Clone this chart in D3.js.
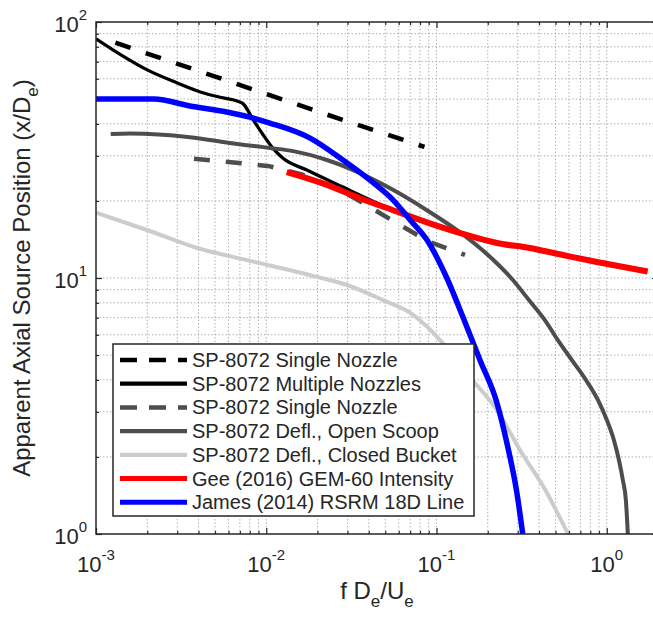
<!DOCTYPE html>
<html><head><meta charset="utf-8">
<script src="https://cdn.jsdelivr.net/npm/d3@7"></script>
<style>
body{margin:0;background:#fff}
svg{display:block}
text{font-family:"Liberation Sans",Arial,Helvetica,sans-serif;fill:#262626}
</style>
</head><body>
<svg id="chart" width="653" height="617"></svg>
<script>
// ---- data ----
const xMajor = [0.001, 0.01, 0.1, 1];
const xTickExp = ["-3", "-2", "-1", "0"];
const yMajor = [1, 10, 100];
const yTickExp = ["0", "1", "2"];

const seriesNames = [
  "SP-8072 Single Nozzle",
  "SP-8072 Multiple Nozzles",
  "SP-8072 Single Nozzle",
  "SP-8072 Defl., Open Scoop",
  "SP-8072 Defl., Closed Bucket",
  "Gee (2016) GEM-60 Intensity",
  "James (2014) RSRM 18D Line"
];

const sp8072SingleNozzleA = [[0.0013,83],[0.0227,43.5],[0.085,32.5]];
const sp8072MultipleNozzles = [[0.001,86],[0.00144,73.6],[0.002,65],[0.003,57.8],[0.0041,53.3],[0.0056,50.5],[0.0068,49],[0.0073,48],[0.0084,41.4],[0.0096,36.2],[0.011,32],[0.0125,29.4],[0.0173,26.4],[0.028,22.7],[0.045,19.6],[0.07,17.3],[0.105,16.0]];
const sp8072SingleNozzleB = [[0.00376,29.2],[0.006,28.4],[0.0105,27.3],[0.0164,25.3],[0.0271,22.1],[0.0407,18.9],[0.061,16.1],[0.0914,13.8],[0.147,12.3]];
const sp8072OpenScoop = [[0.00122,36.5],[0.00158,36.7],[0.00356,35.5],[0.0061,33.7],[0.0105,32.2],[0.0144,31.3],[0.0227,28.9],[0.0355,25.7],[0.0555,22.1],[0.0878,18.4],[0.137,15.1],[0.206,12.1],[0.281,9.82],[0.349,8.2],[0.433,6.85],[0.516,5.72],[0.624,4.78],[0.754,4.0],[0.887,3.34],[1.001,2.79],[1.101,2.33],[1.178,1.95],[1.243,1.625],[1.295,1.358],[1.33,1.0]];
const sp8072ClosedBucket = [[0.001,18],[0.00199,15.4],[0.00392,13.1],[0.0077,11.75],[0.0199,10.1],[0.0298,9.39],[0.0484,8.2],[0.0726,7.2],[0.109,5.57],[0.157,4.1],[0.2265,3.05],[0.309,2.13],[0.445,1.45],[0.592,1.0]];
const gee2016 = [[0.0132,25.9],[0.0227,23.1],[0.0355,20.5],[0.0555,18.4],[0.0878,16.5],[0.137,15.0],[0.2265,13.7],[0.353,13.1],[0.583,12.2],[0.875,11.55],[1.74,10.6]];
const james2014 = [[0.001,50],[0.00219,50],[0.00356,47],[0.00587,44.5],[0.008,42.5],[0.0105,40.3],[0.0181,35.2],[0.0282,28.9],[0.0407,24.1],[0.0555,20.2],[0.0698,16.9],[0.0878,14.1],[0.115,10],[0.143,7.04],[0.18,4.78],[0.2265,3.25],[0.259,2.27],[0.2965,1.45],[0.321,1.0]];

// ---- styles ----
const seriesData = [sp8072SingleNozzleA, sp8072MultipleNozzles, sp8072SingleNozzleB, sp8072OpenScoop, sp8072ClosedBucket, gee2016, james2014];
const styles = [
  {color:"#000000", width:4.5, lw:4.5, dash:"16,16", smooth:false},
  {color:"#000000", width:3.3, lw:4.2, dash:null, smooth:true},
  {color:"#4d4d4d", width:4.5, lw:4.5, dash:"16,16", smooth:false},
  {color:"#4d4d4d", width:4, lw:4.2, dash:null, smooth:true},
  {color:"#cccccc", width:4, lw:4.2, dash:null, smooth:true},
  {color:"#ff0000", width:6, lw:5, dash:null, smooth:true},
  {color:"#0000ff", width:5.5, lw:5, dash:null, smooth:true}
];

const svg = d3.select("#chart");
const L = 96, R = 658, T = 22, B = 534;
const x = d3.scaleLog().domain([0.001, 2]).range([L, R]);
const y = d3.scaleLog().domain([1, 100]).range([B, T]);

function minorVals(lo, hi) {
  const out = [];
  for (let e = Math.floor(Math.log10(lo)); e <= Math.ceil(Math.log10(hi)); e++) {
    for (let m = 1; m <= 9; m++) {
      const v = m * Math.pow(10, e);
      if (v >= lo * 0.9999 && v <= hi * 1.0001) out.push(v);
    }
  }
  return out;
}
const xAll = minorVals(0.001, 2);
const yAll = minorVals(1, 100);
const isMajor = v => Math.abs(Math.log10(v) - Math.round(Math.log10(v))) < 1e-9;

// grid
const grid = svg.append("g");
grid.selectAll("line.gx").data(xAll.filter(v => v > 0.001 && v < 2)).enter().append("line")
  .attr("x1", d => x(d)).attr("x2", d => x(d)).attr("y1", T).attr("y2", B)
  .attr("stroke", "#b0b0b0").attr("stroke-width", 1).attr("stroke-dasharray", "1.5,2");
grid.selectAll("line.gy").data(yAll.filter(v => v > 1 && v < 100)).enter().append("line")
  .attr("y1", d => y(d)).attr("y2", d => y(d)).attr("x1", L).attr("x2", R)
  .attr("stroke", "#b0b0b0").attr("stroke-width", 1).attr("stroke-dasharray", "1.5,2");

// clip
svg.append("clipPath").attr("id", "clip").append("rect")
  .attr("x", L).attr("y", T).attr("width", R - L).attr("height", B - T);

// lines
const plot = svg.append("g").attr("clip-path", "url(#clip)");
seriesData.forEach((data, i) => {
  const st = styles[i];
  const gen = d3.line().x(d => x(d[0])).y(d => y(d[1]))
    .curve(st.smooth ? d3.curveMonotoneX : d3.curveLinear);
  plot.append("path").datum(data).attr("d", gen)
    .attr("fill", "none").attr("stroke", st.color).attr("stroke-width", st.width)
    .attr("stroke-dasharray", st.dash).attr("stroke-linejoin", "round");
});

// axes (ticks inward on all sides)
const axColor = "#262626";
function styleAxis(g) {
  g.select(".domain").remove();
  g.selectAll("line").attr("stroke", axColor).attr("stroke-width", 1.2);
  g.selectAll("text").remove();
}
const xMinorOnly = xAll.filter(v => !isMajor(v));
const yMinorOnly = yAll.filter(v => !isMajor(v));
svg.append("g").attr("transform", `translate(0,${B})`).call(d3.axisBottom(x).tickValues(xMajor).tickSizeInner(-6).tickSizeOuter(0)).call(styleAxis);
svg.append("g").attr("transform", `translate(0,${B})`).call(d3.axisBottom(x).tickValues(xMinorOnly).tickSizeInner(-3).tickSizeOuter(0)).call(styleAxis);
svg.append("g").attr("transform", `translate(0,${T})`).call(d3.axisTop(x).tickValues(xMajor).tickSizeInner(-6).tickSizeOuter(0)).call(styleAxis);
svg.append("g").attr("transform", `translate(0,${T})`).call(d3.axisTop(x).tickValues(xMinorOnly).tickSizeInner(-3).tickSizeOuter(0)).call(styleAxis);
svg.append("g").attr("transform", `translate(${L},0)`).call(d3.axisLeft(y).tickValues(yMajor).tickSizeInner(-6).tickSizeOuter(0)).call(styleAxis);
svg.append("g").attr("transform", `translate(${L},0)`).call(d3.axisLeft(y).tickValues(yMinorOnly).tickSizeInner(-3).tickSizeOuter(0)).call(styleAxis);
svg.append("g").attr("transform", `translate(${R},0)`).call(d3.axisRight(y).tickValues(yMajor).tickSizeInner(-6).tickSizeOuter(0)).call(styleAxis);
svg.append("g").attr("transform", `translate(${R},0)`).call(d3.axisRight(y).tickValues(yMinorOnly).tickSizeInner(-3).tickSizeOuter(0)).call(styleAxis);

// box
svg.append("rect").attr("x", L).attr("y", T).attr("width", R - L).attr("height", B - T)
  .attr("fill", "none").attr("stroke", axColor).attr("stroke-width", 1.5);

// tick labels
xMajor.forEach((v, i) => {
  const t = svg.append("text").attr("x", x(v)).attr("y", B + 38).attr("text-anchor", "middle").attr("font-size", 22);
  t.append("tspan").text("10");
  t.append("tspan").attr("dy", -12).attr("font-size", 15).text(xTickExp[i]);
});
yMajor.forEach((v, i) => {
  const t = svg.append("text").attr("x", L - 9).attr("y", y(v) + 10).attr("text-anchor", "end").attr("font-size", 22);
  t.append("tspan").text("10");
  t.append("tspan").attr("dy", -12).attr("font-size", 15).text(yTickExp[i]);
});

// axis titles
const xt = svg.append("text").attr("x", (L + R) / 2).attr("y", 599).attr("text-anchor", "middle").attr("font-size", 24);
xt.append("tspan").text("f D");
xt.append("tspan").attr("dy", 8).attr("font-size", 17).text("e");
xt.append("tspan").attr("dy", -8).text("/U");
xt.append("tspan").attr("dy", 8).attr("font-size", 17).text("e");

const yt = svg.append("text").attr("transform", `translate(30,${(T + B) / 2}) rotate(-90)`).attr("text-anchor", "middle").attr("font-size", 24);
yt.append("tspan").text("Apparent Axial Source Position (x/D");
yt.append("tspan").attr("dy", 8).attr("font-size", 17).text("e");
yt.append("tspan").attr("dy", -8).text(")");

// legend
const lg = svg.append("g");
lg.append("rect").attr("x", 113).attr("y", 344).attr("width", 361).attr("height", 172)
  .attr("fill", "#fff").attr("stroke", axColor).attr("stroke-width", 1.5);
seriesNames.forEach((name, i) => {
  const cy = 360 + i * 23.7;
  const st = styles[i];
  lg.append("line").attr("x1", 120).attr("x2", 187).attr("y1", cy).attr("y2", cy)
    .attr("stroke", st.color).attr("stroke-width", st.lw)
    .attr("stroke-dasharray", st.dash ? "17,12" : null);
  lg.append("text").attr("x", 192).attr("y", cy + 7).attr("font-size", 20).attr("fill", "#000").text(name);
});
</script>
</body></html>
